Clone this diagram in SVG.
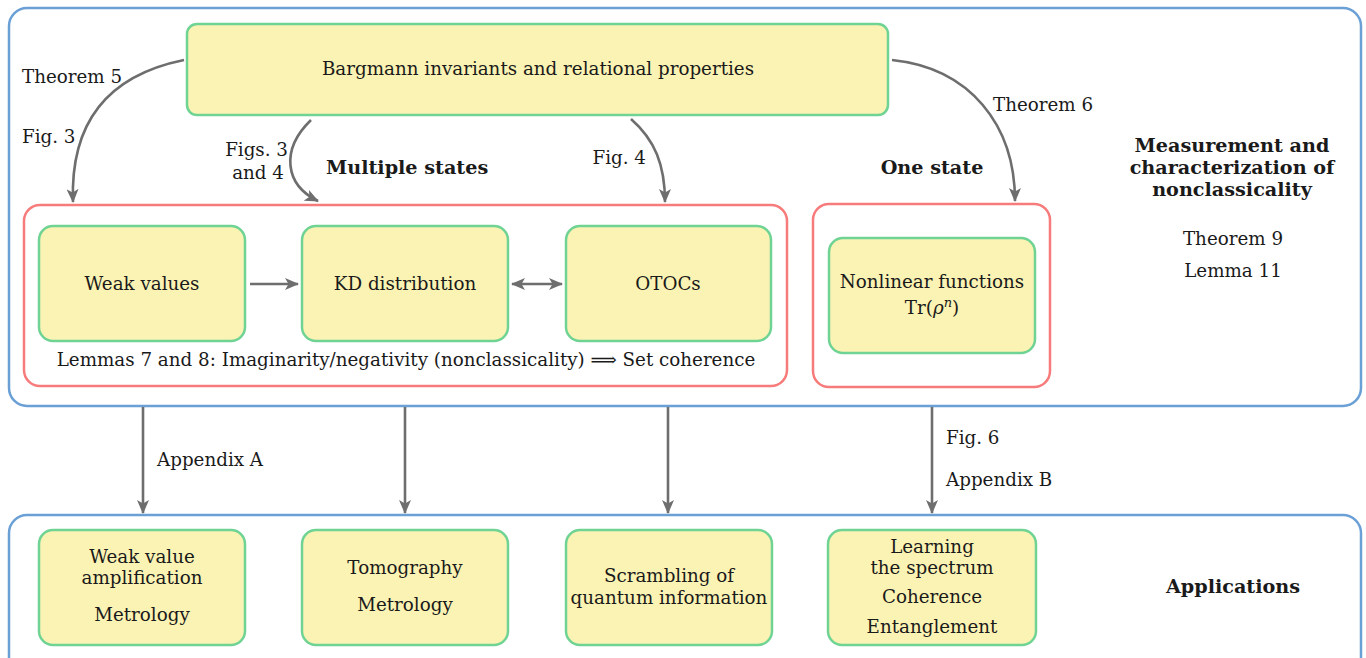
<svg xmlns="http://www.w3.org/2000/svg" width="1366" height="658" viewBox="0 0 1366 658">
<style>
text{font-family:"DejaVu Serif",serif;font-size:18.3px;fill:#1a1a1a}
.b{font-weight:bold;font-size:19.2px}
.m{text-anchor:middle}
.e{text-anchor:end}
.blue{fill:none;stroke:#6aa0d5;stroke-width:2.5}
.red{fill:none;stroke:#f77b7b;stroke-width:2.5}
.node{fill:#fbf3b4;stroke:#6fd394;stroke-width:2.5}
.c{fill:none;stroke:#6e6e6e;stroke-width:2.6;marker-end:url(#ah)}
</style>
<defs>
<marker id="ah" viewBox="0 0 14 12" refX="13" refY="6" markerWidth="14" markerHeight="12" markerUnits="userSpaceOnUse" orient="auto-start-reverse">
<path d="M0,0 L14,6 L0,12 L3.5,6 Z" fill="#6e6e6e"/>
</marker>
</defs>
<rect class="blue" x="9" y="8" width="1352" height="398" rx="18"/>
<rect class="blue" x="9" y="515" width="1352" height="160" rx="18"/>
<rect class="red" x="24" y="205" width="763" height="181" rx="16"/>
<rect class="red" x="813" y="204" width="237" height="183" rx="16"/>
<g id="bargmann"><rect class="node" x="187" y="24" width="701" height="91" rx="10"/><text class="m" x="538" y="75">Bargmann invariants and relational properties</text></g>
<g id="weak"><rect class="node" x="39" y="226" width="206" height="115" rx="14"/><text class="m" x="142" y="290">Weak values</text></g>
<g id="kd"><rect class="node" x="302" y="226" width="206" height="115" rx="14"/><text class="m" x="405" y="290">KD distribution</text></g>
<g id="otocs"><rect class="node" x="566" y="226" width="205" height="115" rx="14"/><text class="m" x="668" y="290">OTOCs</text></g>
<g id="nonlinear"><rect class="node" x="829" y="238" width="206" height="115" rx="14"/><text class="m" x="932" y="288">Nonlinear functions</text><text class="m" x="932" y="314">Tr(<tspan font-style="italic">ρ</tspan><tspan font-style="italic" font-size="13" dy="-7">n</tspan><tspan dy="7">)</tspan></text></g>
<g id="app1"><rect class="node" x="39" y="530" width="206" height="115" rx="14"/><text class="m" x="142" y="563">Weak value</text><text class="m" x="142" y="584">amplification</text><text class="m" x="142" y="621">Metrology</text></g>
<g id="app2"><rect class="node" x="302" y="530" width="206" height="115" rx="14"/><text class="m" x="405" y="574">Tomography</text><text class="m" x="405" y="611">Metrology</text></g>
<g id="app3"><rect class="node" x="566" y="530" width="206" height="115" rx="14"/><text class="m" x="669" y="582">Scrambling of</text><text class="m" x="669" y="604">quantum information</text></g>
<g id="app4"><rect class="node" x="828" y="530" width="208" height="115" rx="14"/><text class="m" x="932" y="553">Learning</text><text class="m" x="932" y="574">the spectrum</text><text class="m" x="932" y="603">Coherence</text><text class="m" x="932" y="633">Entanglement</text></g>
<g id="connectors">
<path class="c" d="M184,60 C110,75 70,120 73,202"/>
<path class="c" d="M311,120 C280,150 285,185 318,201"/>
<path class="c" d="M631,119 C655,140 665,165 665,202"/>
<path class="c" d="M892,60 C970,68 1015,125 1015,201"/>
<path class="c" d="M250,284 L298,284"/>
<path class="c" d="M512,284 L562,284" style="marker-start:url(#ah)"/>
<path class="c" d="M143,407 L143,513"/>
<path class="c" d="M405,407 L405,513"/>
<path class="c" d="M668,407 L668,513"/>
<path class="c" d="M932,407 L932,513"/>
</g>
<g id="labels">
<text x="22" y="83">Theorem 5</text>
<text x="22" y="143">Fig. 3</text>
<text class="e" x="288" y="156">Figs. 3</text>
<text class="e" x="284" y="179">and 4</text>
<text class="b" x="326" y="174">Multiple states</text>
<text class="e" x="646" y="164">Fig. 4</text>
<text class="b m" x="932" y="174">One state</text>
<text x="993" y="111">Theorem 6</text>
<text class="b m" x="1232" y="152">Measurement and</text>
<text class="b m" x="1232" y="174">characterization of</text>
<text class="b m" x="1232" y="196">nonclassicality</text>
<text class="m" x="1233" y="245">Theorem 9</text>
<text class="m" x="1233" y="277">Lemma 11</text>
<text class="m" x="406" y="366">Lemmas 7 and 8: Imaginarity/negativity (nonclassicality) ⟹ Set coherence</text>
<text x="157" y="466">Appendix A</text>
<text x="946" y="444">Fig. 6</text>
<text x="946" y="486">Appendix B</text>
<text class="b m" x="1233" y="593">Applications</text>
</g>
</svg>
